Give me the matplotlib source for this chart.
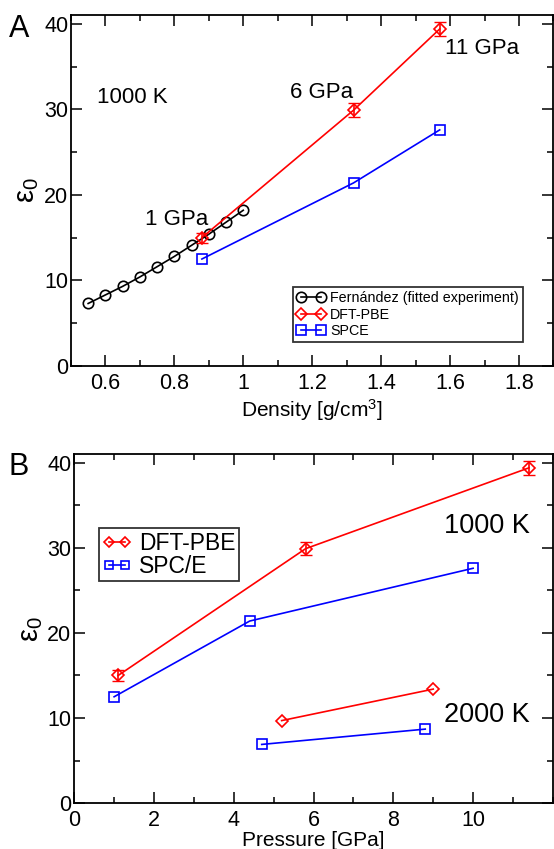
import matplotlib
matplotlib.use('agg')
import matplotlib.pyplot as plt
from matplotlib.ticker import MultipleLocator

plt.rcParams['font.family'] = ['Liberation Sans', 'DejaVu Sans']
plt.rcParams['mathtext.fontset'] = 'custom'
plt.rcParams['mathtext.rm'] = 'Liberation Sans'
plt.rcParams['mathtext.it'] = 'Liberation Sans'

# panel A: epsilon vs density at 1000 K
fern_rho = [0.55, 0.60, 0.65, 0.70, 0.75, 0.80, 0.85, 0.90, 0.95, 1.00]
fern_eps = [7.3, 8.3, 9.3, 10.4, 11.6, 12.8, 14.1, 15.4, 16.8, 18.2]
dft_rho = [0.88, 1.32, 1.57]
dft_eps = [15.0, 29.9, 39.4]
dft_err = [0.6, 0.8, 0.8]
spce_rho = [0.88, 1.32, 1.57]
spce_eps = [12.5, 21.4, 27.6]

# panel B: epsilon vs pressure
dft1000_p = [1.1, 5.8, 11.4]
dft1000_eps = [15.0, 29.9, 39.4]
dft1000_err = [0.6, 0.8, 0.8]
spce1000_p = [1.0, 4.4, 10.0]
spce1000_eps = [12.5, 21.4, 27.6]
dft2000_p = [5.2, 9.0]
dft2000_eps = [9.7, 13.4]
spce2000_p = [4.7, 8.8]
spce2000_eps = [6.9, 8.7]

fig = plt.figure(figsize=(5.54, 8.49), dpi=100)
axA = fig.add_axes([0.128, 0.569, 0.871, 0.413])
axB = fig.add_axes([0.134, 0.054, 0.864, 0.411])

def style(ax):
    ax.tick_params(which='both', direction='in', top=True, right=True, labelsize=15.5)
    ax.tick_params(axis='y', pad=2)
    ax.tick_params(axis='x', pad=5)
    ax.tick_params(which='major', length=8, width=1.1)
    ax.tick_params(which='minor', length=4.5, width=1.1)
    for s in ax.spines.values():
        s.set_linewidth(1.3)

kw = dict(mfc='none', mew=1.2, lw=1.2)

# ---- panel A
axA.plot(fern_rho, fern_eps, '-o', color='black', ms=7.5, label='Fernández (fitted experiment)', **kw)
axA.errorbar(dft_rho, dft_eps, yerr=dft_err, fmt='none', ecolor='red', elinewidth=1.2, capsize=4)
axA.plot(dft_rho, dft_eps, '-D', color='red', ms=6, label='DFT-PBE', **kw)
axA.plot(spce_rho, spce_eps, '-s', color='blue', ms=6.5, label='SPCE', **kw)
axA.set_xlim(0.5, 1.9)
axA.set_ylim(0, 41)
axA.xaxis.set_minor_locator(MultipleLocator(0.1))
axA.yaxis.set_major_locator(MultipleLocator(10))
axA.yaxis.set_minor_locator(MultipleLocator(5))
axA.set_xticks([0.6, 0.8, 1.0, 1.2, 1.4, 1.6, 1.8])
axA.set_xticklabels(['0.6', '0.8', '1', '1.2', '1.4', '1.6', '1.8'])
style(axA)
axA.set_xlabel('Density [g/cm$^3$]', fontsize=15, labelpad=2)
axA.set_ylabel('ε$_0$', fontsize=21, labelpad=2)
axA.text(0.576, 30.8, '1000 K', fontsize=16)
axA.text(1.137, 31.3, '6 GPa', fontsize=16)
axA.text(1.585, 36.5, '11 GPa', fontsize=16)
axA.text(0.715, 16.5, '1 GPa', fontsize=16)
legA = axA.legend(loc='lower right', bbox_to_anchor=(0.937, 0.068), fontsize=10.3, frameon=True,
                  fancybox=False, edgecolor='black', handlelength=2.0, borderpad=0.3,
                  labelspacing=0.15, handletextpad=0.3, numpoints=2, borderaxespad=0)
legA.get_frame().set_linewidth(1.3)
fig.text(0.016, 0.957, 'A', fontsize=22)

# ---- panel B
axB.errorbar(dft1000_p, dft1000_eps, yerr=dft1000_err, fmt='none', ecolor='red', elinewidth=1.2,
             capsize=4)
axB.plot(dft1000_p, dft1000_eps, '-D', color='red', ms=6, label='DFT-PBE', **kw)
axB.plot(spce1000_p, spce1000_eps, '-s', color='blue', ms=6.5, label='SPC/E', **kw)
axB.plot(dft2000_p, dft2000_eps, '-D', color='red', ms=6, **kw)
axB.plot(spce2000_p, spce2000_eps, '-s', color='blue', ms=6.5, **kw)
axB.set_xlim(0, 12)
axB.set_ylim(0, 41)
axB.xaxis.set_minor_locator(MultipleLocator(1))
axB.set_xticks([0, 2, 4, 6, 8, 10])
axB.yaxis.set_major_locator(MultipleLocator(10))
axB.yaxis.set_minor_locator(MultipleLocator(5))
style(axB)
axB.set_xlabel('Pressure [GPa]', fontsize=15, labelpad=0)
axB.set_ylabel('ε$_0$', fontsize=21, labelpad=2)
axB.text(9.28, 31.8, '1000 K', fontsize=19.5)
axB.text(9.28, 9.5, '2000 K', fontsize=19.5)
legB = axB.legend(loc='upper left', bbox_to_anchor=(0.052, 0.788), fontsize=16.5, frameon=True,
                  fancybox=False, edgecolor='black', handlelength=1.3, borderpad=0.15,
                  labelspacing=0.0, handletextpad=0.3, numpoints=2, borderaxespad=0,
                  markerscale=0.85)
legB.get_frame().set_linewidth(1.3)
fig.text(0.016, 0.44, 'B', fontsize=22)

fig.savefig('out.png', dpi=100)
